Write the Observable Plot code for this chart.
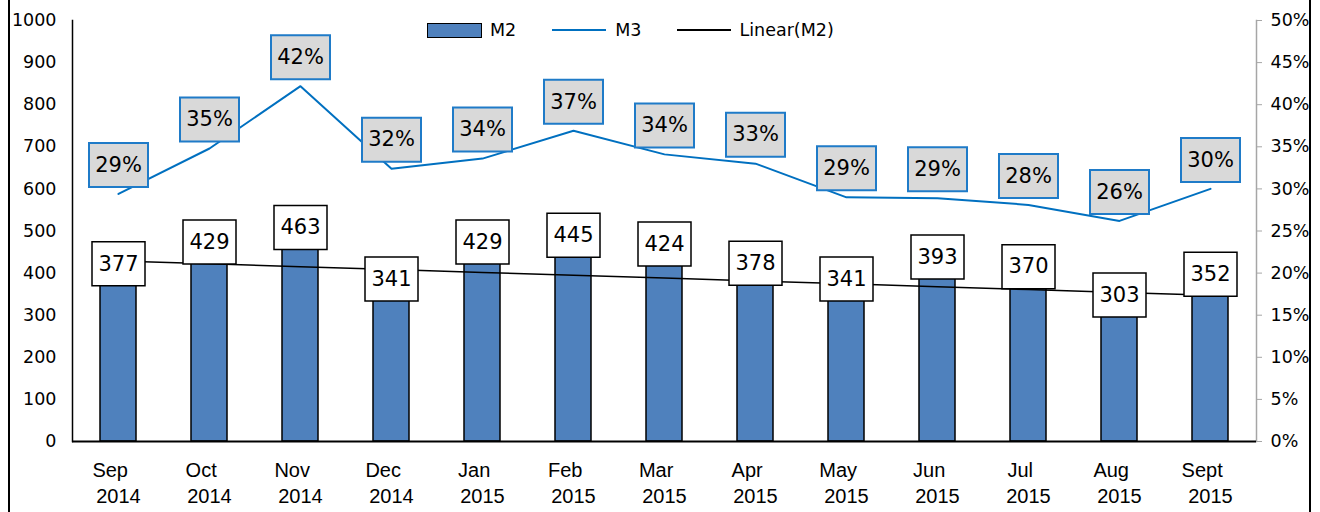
<!DOCTYPE html>
<html><head><meta charset="utf-8">
<script src="https://cdn.jsdelivr.net/npm/d3@7"></script>
<script src="https://cdn.jsdelivr.net/npm/@observablehq/plot@0.6"></script>
<style>
body{margin:0;background:#fff;}
#wrap{position:relative;width:1320px;height:512px;overflow:hidden;}
.vline{position:absolute;top:0;bottom:0;width:2px;background:#000;}
#legend{position:absolute;top:20px;left:427px;display:flex;align-items:center;font-family:"DejaVu Sans",sans-serif;font-size:17.5px;color:#000;}
#legend .sw{display:inline-block;}
</style></head>
<body><div id="wrap"><div class="vline" style="left:8px"></div><div class="vline" style="left:1309px"></div>
<div id="legend">
<span class="sw" style="width:53px;height:13px;background:#4F81BD;border:1.5px solid #000;margin-right:8px"></span><span style="margin-right:36px">M2</span>
<span class="sw" style="width:54px;height:2px;background:#0070C0;margin-right:9px"></span><span style="margin-right:36px">M3</span>
<span class="sw" style="width:54px;height:2px;background:#000;margin-right:8px"></span><span>Linear(M2)</span>
</div>
</div>
<script>
const months = ["Sep","Oct","Nov","Dec","Jan","Feb","Mar","Apr","May","Jun","Jul","Aug","Sept"];
const years = ["2014","2014","2014","2014","2015","2015","2015","2015","2015","2015","2015","2015","2015"];
const m2 = [377,429,463,341,429,445,424,378,341,393,370,303,352];
const m3 = [29.4,34.8,42.2,32.4,33.6,36.9,34.1,33.0,29.0,28.9,28.1,26.2,30.0];
const leftTicks = [0,100,200,300,400,500,600,700,800,900,1000];
const rightTicks = [0,5,10,15,20,25,30,35,40,45,50];

const cats = months.map((m,i)=>m+"\u00a0\u00a0\u00a0\n"+years[i]);
const PCT = 20; // 50% on right axis aligns with 1000 on left axis
const n = m2.length;
const mx = (n-1)/2, my = d3.mean(m2);
const slope = d3.sum(m2,(v,i)=>(i-mx)*(v-my))/d3.sum(m2,(v,i)=>(i-mx)**2);
const data = cats.map((c,i)=>({cat:c, m2:m2[i], m3:m3[i]*PCT, m3lab:Math.round(m3[i])+"%", trend: my + slope*(i-mx)}));

const boxSym = (w,h)=>({draw(ctx){ctx.rect(-w/2,-h/2,w,h);}});

const chart = Plot.plot({
  width:1320, height:512,
  marginLeft:72, marginRight:64, marginTop:20, marginBottom:71,
  style:{fontFamily:"DejaVu Sans, sans-serif", background:"transparent"},
  x:{domain:cats, paddingInner:0.6, paddingOuter:0.3, label:null},
  y:{domain:[0,1000], label:null},
  marks:[
    Plot.barY(data,{x:"cat", y:"m2", fill:"#4F81BD", stroke:"#000", strokeWidth:1.5}),
    Plot.frame({anchor:"left", stroke:"#000", strokeWidth:1.5}),
    Plot.frame({anchor:"right", stroke:"#a6a6a6", strokeWidth:1.5}),
    Plot.ruleY([0],{stroke:"#000", strokeWidth:2}),
    Plot.axisY(leftTicks,{anchor:"left", tickSize:0, tickPadding:16, fontSize:17.5, fill:"#000", tickFormat:d=>String(d), label:null}),
    Plot.axisY(rightTicks.map(d=>d*PCT),{anchor:"right", tickSize:5, tickPadding:9, stroke:"#a6a6a6", fill:"#000", fontSize:17.5, tickFormat:d=>d/PCT+"%", label:null}),
    Plot.axisX({tickSize:0, tickPadding:17, fontSize:20, fontFamily:"Liberation Sans, Arial, sans-serif", lineHeight:1.3, fill:"#000", label:null}),
    Plot.line(data,{x:"cat", y:"trend", stroke:"#000", strokeWidth:1.5}),
    Plot.line(data,{x:"cat", y:"m3", stroke:"#0070C0", strokeWidth:2}),
    Plot.dot(data,{x:"cat", y:"m3", dy:-29, symbol:boxSym(59,44), r:10, fill:"#D9D9D9", stroke:"#1F7BC8", strokeWidth:2}),
    Plot.text(data,{x:"cat", y:"m3", dy:-29, text:"m3lab", fontSize:21, fill:"#000"}),
    Plot.dot(data,{x:"cat", y:"m2", dy:-19, symbol:boxSym(53,44), r:10, fill:"#fff", stroke:"#000", strokeWidth:1.5}),
    Plot.text(data,{x:"cat", y:"m2", dy:-19, text:d=>String(d.m2), fontSize:21, fill:"#000"})
  ]
});
document.getElementById("wrap").prepend(chart);
</script></body></html>
